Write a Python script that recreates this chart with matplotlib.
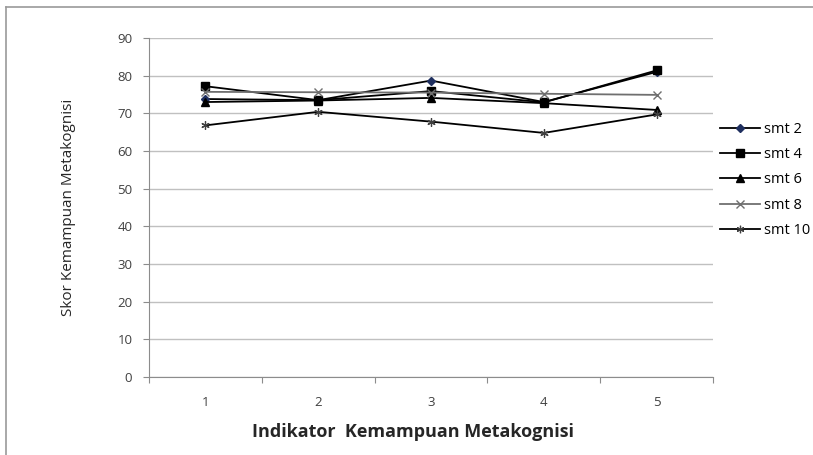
import matplotlib
matplotlib.use("Agg")
import matplotlib.pyplot as plt
from matplotlib.lines import Line2D
import numpy as np

# indicator numbers on the x axis
indikator = [1, 2, 3, 4, 5]

# scores, one list per semester
smt2 = [73.8, 73.5, 78.7, 73.0, 81.0]
smt4 = [77.2, 73.5, 75.9, 72.9, 81.4]
smt6 = [73.0, 73.4, 74.1, 72.7, 70.9]
smt8 = [75.7, 75.6, 75.5, 75.2, 74.9]
smt10 = [66.8, 70.4, 67.8, 64.8, 69.7]

y_ticks = [0, 10, 20, 30, 40, 50, 60, 70, 80, 90]

plt.rcParams['font.family'] = ['Open Sans', 'DejaVu Sans']

fig = plt.figure(figsize=(8.13, 4.55), dpi=100)
ax = fig.add_axes([149 / 813, 1 - 377 / 455, 564 / 813, 339 / 455])

x = np.array(indikator)
ax.plot(x, smt2, color="black", lw=1.3, marker="D", ms=4,
        mfc="#1f2f5f", mec="#1f2f5f", label="smt 2", zorder=3)
ax.plot(x, smt4, color="black", lw=1.3, marker="s", ms=6,
        mfc="black", mec="black", label="smt 4", zorder=3)
ax.plot(x, smt6, color="black", lw=1.3, marker="^", ms=6,
        mfc="black", mec="black", label="smt 6", zorder=3)
ax.plot(x, smt8, color="#6f6f6f", lw=1.3, marker="x", ms=6, mew=1.0,
        label="smt 8", zorder=3)
ax.plot(x, smt10, color="black", lw=1.3, marker=(6, 2, 0), ms=6, mew=0.9,
        mec="#404040", label="smt 10", zorder=3)

ax.set_xlim(0.5, 5.5)
ax.set_ylim(0, 90)
ax.set_yticks(y_ticks)
ax.set_xticks([1.5, 2.5, 3.5, 4.5, 5.5, 0.5])
ax.set_xticklabels([])
ax.set_xticks(indikator, minor=True)
ax.set_xticklabels([str(i) for i in indikator], minor=True)

ax.grid(axis="y", color="#c0c0c0", lw=1)
ax.set_axisbelow(True)
for side in ["top", "right"]:
    ax.spines[side].set_visible(False)
for side in ["left", "bottom"]:
    ax.spines[side].set_color("#8c8c8c")
ax.tick_params(axis="y", which="major", length=4, color="#8c8c8c",
               labelsize=9.5, labelcolor="#404040", pad=8)
ax.tick_params(axis="x", which="major", length=4, color="#8c8c8c")
ax.tick_params(axis="x", which="minor", length=0, labelsize=9.5,
               labelcolor="#404040", pad=14)

ax.legend(loc="upper left", bbox_to_anchor=(720 / 813, 1 - 122 / 455),
          bbox_transform=fig.transFigure, frameon=False, fontsize=10.5,
          handlelength=2.75, handletextpad=0.25, labelspacing=0.7,
          borderaxespad=0, borderpad=0, markerscale=0.9)

fig.text(413 / 813, 1 - 432 / 455, "Indikator  Kemampuan Metakognisi",
         ha="center", va="center", fontsize=13, fontweight="bold",
         color="#262626")
fig.text(68 / 813, 1 - 207 / 455, "Skor Kemampuan Metakognisi",
         ha="center", va="center", rotation=90, fontsize=11,
         color="#262626",
         family=["Liberation Sans Narrow", "Open Sans", "DejaVu Sans"])

# outer chart frame (cut off at right and bottom in the reference)
fig.add_artist(Line2D([6 / 813, 6 / 813], [0, 1 - 7 / 455],
                      transform=fig.transFigure, color="#9a9a9a", lw=1.2))
fig.add_artist(Line2D([6 / 813, 1], [1 - 7 / 455, 1 - 7 / 455],
                      transform=fig.transFigure, color="#9a9a9a", lw=1.2))

fig.savefig("out.png", dpi=100)
